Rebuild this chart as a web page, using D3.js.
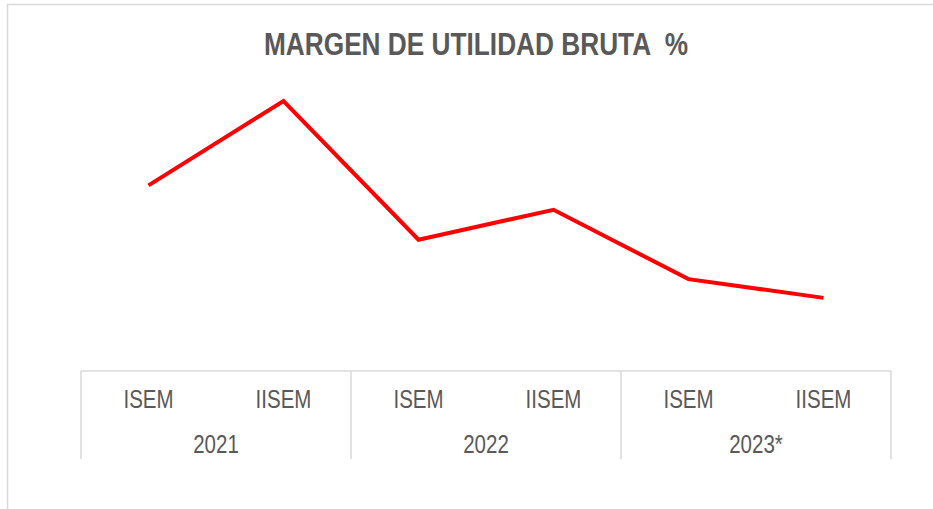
<!DOCTYPE html>
<html>
<head>
<meta charset="utf-8">
<script src="https://cdn.jsdelivr.net/npm/d3@7"></script>
<style>
  body { margin: 0; background: #fff; }
  text { font-family: "Liberation Sans", Arial, sans-serif; }
</style>
</head>
<body>
<div id="chart"></div>
<script>
// data
var periods = ["ISEM", "IISEM", "ISEM", "IISEM", "ISEM", "IISEM"];
var years = ["2021", "2022", "2023*"];
var margin_pct = [29.9, 34.4, 27.0, 28.6, 24.9, 23.9];

var W = 933, H = 509;
var plot = { left: 81, right: 891, top: 71, bottom: 371 };
var narrow = 0.82; // squeeze to imitate a narrow font

var svg = d3.select("#chart")
    .append("svg")
    .attr("width", W)
    .attr("height", H);

// chart area border
svg.append("rect")
    .attr("x", 7.5)
    .attr("y", 4.5)
    .attr("width", W)
    .attr("height", H)
    .attr("fill", "#fff")
    .attr("stroke", "#d9d9d9")
    .attr("stroke-width", 1.5);

// title
svg.append("text")
    .attr("transform", "translate(476,55) scale(" + narrow + ",1)")
    .attr("text-anchor", "middle")
    .attr("font-size", 32)
    .attr("font-weight", "bold")
    .attr("fill", "#595959")
    .style("white-space", "pre")
    .text("MARGEN DE UTILIDAD BRUTA  %");

var idx = d3.range(periods.length);

var x = d3.scaleBand()
    .domain(idx)
    .range([plot.left, plot.right]);

var y = d3.scaleLinear()
    .domain([20, 36])
    .range([plot.bottom, plot.top]);

var line = d3.line()
    .x(function (d, i) { return x(i) + x.bandwidth() / 2; })
    .y(function (d) { return y(d); });

svg.append("path")
    .datum(margin_pct)
    .attr("fill", "none")
    .attr("stroke", "#ff0000")
    .attr("stroke-width", 4)
    .attr("stroke-linejoin", "miter")
    .attr("d", line);

// multi-level category axis
var axisColor = "#d9d9d9";
var axisBottom = 459;

svg.append("line")
    .attr("x1", plot.left).attr("x2", plot.right)
    .attr("y1", plot.bottom).attr("y2", plot.bottom)
    .attr("stroke", axisColor).attr("stroke-width", 1.5);

var yearScale = d3.scaleBand()
    .domain(years)
    .range([plot.left, plot.right]);

var seps = [plot.left].concat(years.map(function (d) { return yearScale(d) + yearScale.bandwidth(); }));
svg.selectAll(".sep")
    .data(seps)
    .enter().append("line")
    .attr("class", "sep")
    .attr("x1", function (d) { return d; })
    .attr("x2", function (d) { return d; })
    .attr("y1", plot.bottom)
    .attr("y2", axisBottom)
    .attr("stroke", axisColor)
    .attr("stroke-width", 1.5);

svg.selectAll(".period")
    .data(periods)
    .enter().append("text")
    .attr("class", "period")
    .attr("transform", function (d, i) {
        return "translate(" + (x(i) + x.bandwidth() / 2) + ",408) scale(" + narrow + ",1)";
    })
    .attr("text-anchor", "middle")
    .attr("font-size", 25)
    .attr("fill", "#595959")
    .text(function (d) { return d; });

svg.selectAll(".year")
    .data(years)
    .enter().append("text")
    .attr("class", "year")
    .attr("transform", function (d) {
        return "translate(" + (yearScale(d) + yearScale.bandwidth() / 2) + ",453) scale(" + narrow + ",1)";
    })
    .attr("text-anchor", "middle")
    .attr("font-size", 25)
    .attr("fill", "#595959")
    .text(function (d) { return d; });
</script>
</body>
</html>
